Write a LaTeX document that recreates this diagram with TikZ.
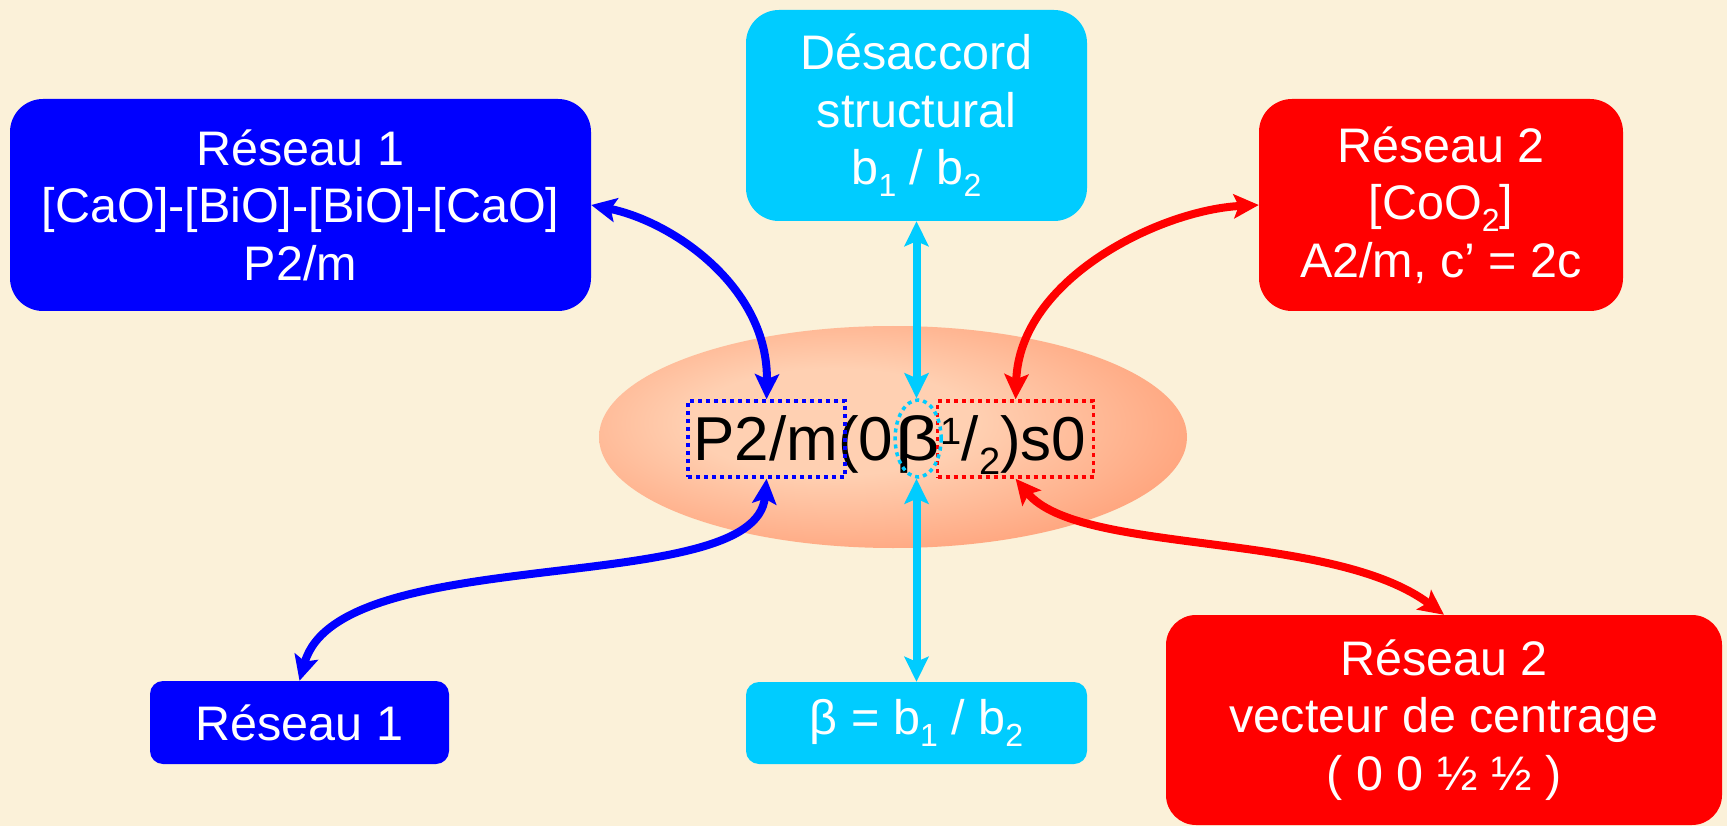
\documentclass[tikz,border=0pt]{standalone}
\usepackage{fontspec}
\setmainfont{Liberation Sans}
\usetikzlibrary{arrows.meta,shapes.geometric,calc,fit}
\definecolor{bg}{RGB}{251,241,217}
\definecolor{myblue}{RGB}{0,0,255}
\definecolor{mycyan}{RGB}{0,204,255}
\definecolor{myred}{RGB}{255,0,0}
\definecolor{ellin}{RGB}{255,208,178}
\definecolor{ellout}{RGB}{255,132,86}
\pgfdeclareradialshading{ellshade}{\pgfpoint{-6bp}{4bp}}{color(0bp)=(ellin); color(12bp)=(ellin); color(44bp)=(ellout); color(80bp)=(ellout)}
\newcommand{\sbs}[1]{\raisebox{-12pt}{\fontsize{32}{32}\selectfont #1}}
\begin{document}
\begin{tikzpicture}[x=1pt,y=-1pt,
  box/.style={rounded corners=33pt, text=white, align=center, inner sep=0pt,
    font=\fontsize{48.5}{57.5}\selectfont},
  smallbox/.style={box, rounded corners=13pt},
  formula/.style={inner sep=0pt, anchor=base west, font=\fontsize{62}{62}\selectfont},
  dotbox/.style={line width=3.5pt, dash pattern=on 4pt off 4pt, inner sep=0pt},
  arr/.style={line width=8pt,
    {Stealth[length=25pt,width=24pt,inset=5pt]}-{Stealth[length=25pt,width=24pt,inset=5pt]}}
]
\useasboundingbox (0,0) rectangle (1727,826);
\fill[bg] (0,0) rectangle (1727,826);

% central ellipse
\node[ellipse, shade, shading=ellshade, minimum width=588pt, minimum height=222pt, inner sep=0pt] (ell) at (893,437) {};

% formula
\node[formula] (f1) at (693,460) {P2/m};
\node[formula] (f2) at (f1.base east) {(0};
\node[formula] (f3) at ($(f2.base east)+(2,0)$) {\scalebox{1.25}[1]{β}};
\node[formula] (f4) at (f3.base east) {\raisebox{16pt}{\fontsize{38}{38}\selectfont 1}/\raisebox{-14pt}{\fontsize{38}{38}\selectfont 2})s0};

\coordinate (p1) at ($(f1.base west)+(-5,-59)$);
\coordinate (p2) at ($(f1.base east)+(7,17)$);
\node[dotbox, draw=myblue, fit=(p1)(p2)] (fP) {};
\coordinate (r1) at ($(f4.base west)+(-3,-59)$);
\coordinate (r2) at ($(f4.base east)+(7,17)$);
\node[dotbox, draw=myred, fit=(r1)(r2)] (fR) {};
\node[dotbox, ellipse, draw=mycyan, minimum width=46pt, minimum height=77pt] (fB) at ($(f3.base)+(0,-21.5)$) {};

% boxes
\node[box, fill=myblue, minimum width=581pt, minimum height=212pt] (tl) at (300.5,205)
  {Réseau 1\\{[CaO]-[BiO]-[BiO]-[CaO]}\\P2/m};
\node[box, fill=mycyan, minimum width=341pt, minimum height=211pt] (tc) at (916.5,115.5)
  {Désaccord\\structural\\b\sbs{1} / b\sbs{2}};
\node[box, fill=myred, minimum width=364pt, minimum height=212pt] (tr) at (1441,205)
  {Réseau 2\\{[CoO\sbs{2}]}\\A2/m, c’ = 2c};
\node[smallbox, fill=myblue, minimum width=299pt, minimum height=83pt] (bl) at (299.5,722.5)
  {Réseau 1};
\node[smallbox, fill=mycyan, minimum width=341pt, minimum height=82pt] (bc) at (916.5,723)
  {β = b\sbs{1} / b\sbs{2}};
\node[box, rounded corners=30pt, fill=myred, minimum width=556pt, minimum height=210pt] (br) at (1444,720)
  {Réseau 2\\vecteur de centrage\\( 0 0 ½ ½ )};

% connectors
\draw[arr, myblue] (tl.east) .. controls +(83,17) and +(2,-111) .. (fP.north);
\draw[arr, mycyan] (tc.south) -- (tc.south |- fB.north);
\draw[arr, mycyan] (bc.north |- fB.south) -- (bc.north);
\draw[arr, myred] (tr.west) .. controls +(-98,5) and +(4,-121) .. (fR.north);
\draw[arr, myblue] (fP.south) .. controls +(-11,121) and +(40,-141) .. (bl.north);
\draw[arr, myred] (fR.south) .. controls +(64,77) and +(-114,-85) .. (br.north);
\end{tikzpicture}
\end{document}
